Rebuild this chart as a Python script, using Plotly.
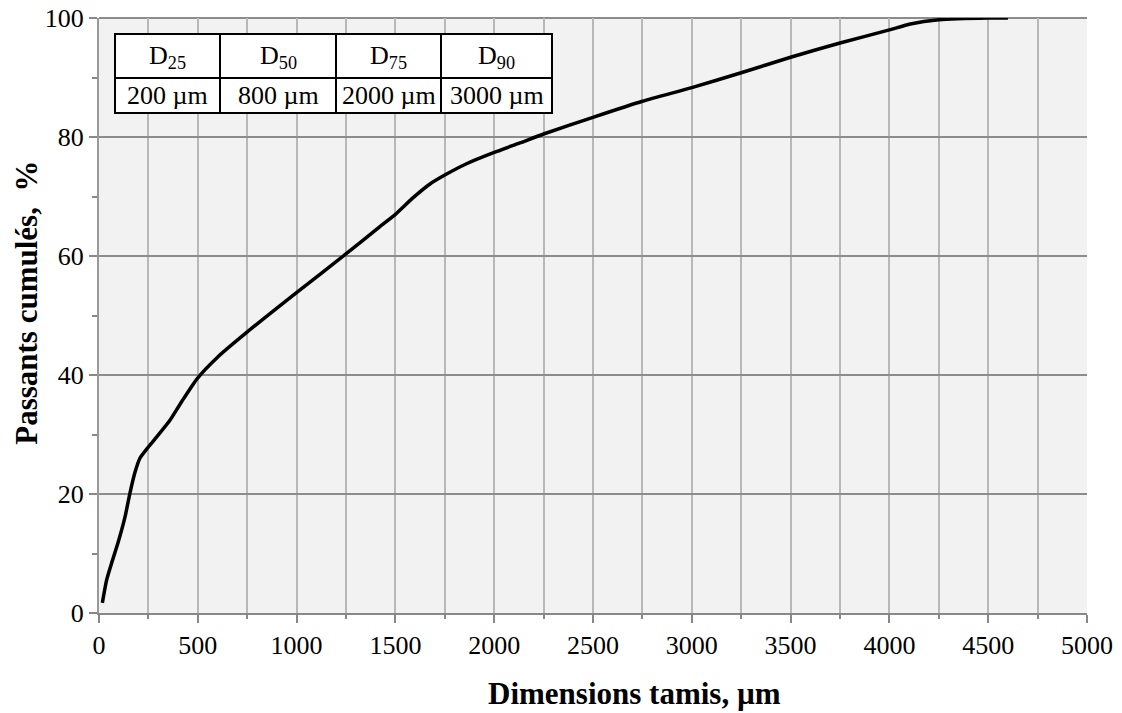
import plotly.graph_objects as go

# Data
sieve_um = [17, 39, 64, 98, 132, 157, 180, 207, 250, 292, 359, 418, 497, 600,
            749, 998, 1248, 1420, 1500, 1590, 1675, 1750, 1860, 2000, 2130,
            2250, 2500, 2750, 3000, 3250, 3500, 3750, 4000, 4106, 4250,
            4500, 4600]
passing_pct = [1.7, 5.6, 8.4, 12.0, 16.2, 20.2, 23.4, 26.0, 27.9, 29.6, 32.4,
               35.5, 39.4, 43.0, 47.2, 53.8, 60.3, 64.9, 67.0, 69.8, 72.1,
               73.6, 75.5, 77.4, 79.0, 80.5, 83.3, 86.0, 88.3, 90.8, 93.4,
               95.8, 98.0, 99.0, 99.7, 100.0, 100.0]

table_headers = ["D<sub>25</sub>", "D<sub>50</sub>", "D<sub>75</sub>", "D<sub>90</sub>"]
table_values = ["200 µm", "800 µm", "2000 µm", "3000 µm"]

x_ticks = [0, 500, 1000, 1500, 2000, 2500, 3000, 3500, 4000, 4500, 5000]
y_ticks = [0, 20, 40, 60, 80, 100]

x_title = "<b>Dimensions tamis, µm</b>"
y_title = "<b>Passants cumulés,  %</b>"

FONT = "Liberation Serif"

# The page body has an 8px margin: the figure is offset by 8px in the window.
OFF = 8
W, H = 1122 - OFF, 713 - OFF
# plot area in window pixels: x 99..1087, y 17.6..613.5
L = 99 - OFF
R = W - (1087 - OFF)
T = 18 - OFF
B = H - (613.5 - OFF)
PW, PH = W - L - R, H - T - B


def px(xpix):
    # window pixel -> paper x
    return (xpix - OFF - L) / PW


def py(ypix):
    # window pixel -> paper y
    return (H - B - (ypix - OFF)) / PH


fig = go.Figure()
fig.add_trace(go.Scatter(
    x=sieve_um, y=passing_pct, mode="lines",
    line=dict(color="black", width=3.5, shape="spline", smoothing=0.6),
    hoverinfo="x+y", showlegend=False,
))

shapes = []
annotations = []

# top border of the plot area (gridline at 100)
shapes.append(dict(type="line", xref="paper", yref="paper", x0=0, x1=1, y0=1, y1=1,
                   line=dict(color="#8c8c8c", width=2), layer="below"))

# Table
tx0, tx1 = 115, 552
ty0, tymid, ty1 = 34, 78, 113
col_edges = [115, 220, 336, 441, 552]
shapes.append(dict(type="rect", xref="paper", yref="paper",
                   x0=px(tx0), x1=px(tx1), y0=py(ty1), y1=py(ty0),
                   fillcolor="white", line=dict(color="black", width=2), layer="above"))
shapes.append(dict(type="line", xref="paper", yref="paper",
                   x0=px(tx0), x1=px(tx1), y0=py(tymid), y1=py(tymid),
                   line=dict(color="black", width=2), layer="above"))
for ce in col_edges[1:-1]:
    shapes.append(dict(type="line", xref="paper", yref="paper",
                       x0=px(ce), x1=px(ce), y0=py(ty1), y1=py(ty0),
                       line=dict(color="black", width=2), layer="above"))
for i in range(4):
    cx = (col_edges[i] + col_edges[i + 1]) / 2
    annotations.append(dict(xref="paper", yref="paper", x=px(cx), y=py((ty0 + tymid) / 2 + 1),
                            text=table_headers[i], showarrow=False,
                            font=dict(family=FONT, size=26, color="black"),
                            xanchor="center", yanchor="middle"))
    annotations.append(dict(xref="paper", yref="paper", x=px(cx), y=py((tymid + ty1) / 2),
                            text=table_values[i], showarrow=False,
                            font=dict(family=FONT, size=26, color="black"),
                            xanchor="center", yanchor="middle"))

# Axis titles
annotations.append(dict(xref="paper", yref="paper", x=px(634), y=py(694),
                        text=x_title, showarrow=False,
                        font=dict(family=FONT, size=31, color="black"),
                        xanchor="center", yanchor="middle"))
annotations.append(dict(xref="paper", yref="paper", x=px(27), y=py(303),
                        text=y_title, showarrow=False, textangle=-90,
                        font=dict(family=FONT, size=31, color="black"),
                        xanchor="center", yanchor="middle"))

fig.update_layout(
    width=W, height=H,
    margin=dict(l=L, r=R, t=T, b=B),
    paper_bgcolor="white",
    plot_bgcolor="#f2f2f2",
    font=dict(family=FONT, size=26, color="black"),
    shapes=shapes,
    annotations=annotations,
    xaxis=dict(
        range=[0, 5000], tickvals=x_ticks, ticktext=[str(v) for v in x_ticks],
        automargin=False, ticklabeloverflow="allow",
        showgrid=True, gridcolor="#b8b8b8", gridwidth=2,
        minor=dict(dtick=250, showgrid=True, gridcolor="#b8b8b8", gridwidth=2,
                   ticks="outside", ticklen=4, tickcolor="#888888", tickwidth=2),
        showline=True, linecolor="#888888", linewidth=2,
        ticks="outside", ticklen=8, tickcolor="#888888", tickwidth=2,
        zeroline=False,
        tickfont=dict(family=FONT, size=26),
    ),
    yaxis=dict(
        range=[0, 100], tickvals=y_ticks, ticktext=[str(v) for v in y_ticks],
        automargin=False, ticklabeloverflow="allow",
        showgrid=True, gridcolor="#8c8c8c", gridwidth=2,
        minor=dict(dtick=10, showgrid=False, ticks="outside", ticklen=5,
                   tickcolor="#888888", tickwidth=2),
        showline=True, linecolor="#999999", linewidth=2,
        ticks="outside", ticklen=8, tickcolor="#888888", tickwidth=2,
        zeroline=False,
        tickfont=dict(family=FONT, size=26),
    ),
)

fig.write_html("out.html")
